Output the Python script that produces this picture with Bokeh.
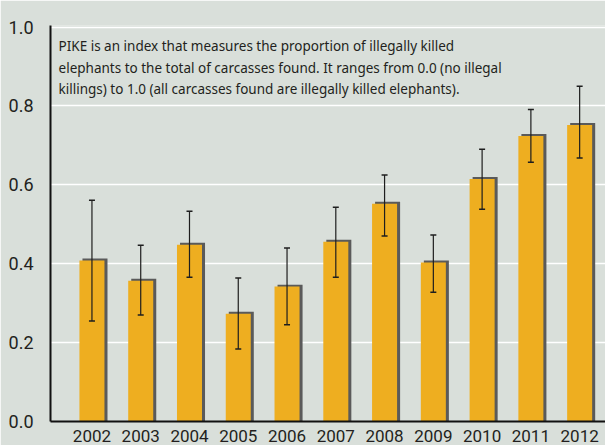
from bokeh.plotting import figure
from bokeh.models import Range1d, FixedTicker, Whisker, ColumnDataSource, Label, TeeHead
from bokeh.transform import dodge
from bokeh.embed import file_html
from bokeh.resources import INLINE

years = ["2002", "2003", "2004", "2005", "2006", "2007", "2008", "2009", "2010", "2011", "2012"]
pike = [0.408, 0.357, 0.448, 0.273, 0.342, 0.456, 0.552, 0.403, 0.615, 0.724, 0.752]
err_upper = [0.561, 0.447, 0.533, 0.364, 0.440, 0.543, 0.625, 0.473, 0.690, 0.791, 0.850]
err_lower = [0.255, 0.270, 0.366, 0.184, 0.245, 0.366, 0.470, 0.328, 0.538, 0.657, 0.668]
y_ticks = [0.0, 0.2, 0.4, 0.6, 0.8, 1.0]
note_lines = [
    "PIKE is an index that measures the proportion of illegally killed",
    "elephants to the total of carcasses found. It ranges from 0.0 (no illegal",
    "killings) to 1.0 (all carcasses found are illegally killed elephants).",
]

BG = "#d9dfda"
ORANGE = "#eeae20"
SHADOW = "#5a5a5a"
INK = "#231f20"

xs = list(range(len(years)))
shadow_top = [v + 0.005 for v in pike]
src = ColumnDataSource(dict(x=xs, top=pike, stop=shadow_top, up=err_upper, lo=err_lower))

p = figure(width=605, height=445, output_backend="svg", toolbar_location=None,
           x_range=Range1d(-0.85, 10.53), y_range=Range1d(0, 1.004),
           min_border_left=50, min_border_right=0, min_border_top=25, min_border_bottom=24)
p.background_fill_color = BG
p.border_fill_color = BG
p.outline_line_color = None

p.vbar(x=dodge("x", 0.062), top="stop", bottom=0, width=0.513, source=src,
       fill_color=SHADOW, line_color=None)
p.vbar(x="x", top="top", bottom=0, width=0.513, source=src,
       fill_color=ORANGE, line_color=None)

w = Whisker(base="x", upper="up", lower="lo", source=src, level="overlay",
            line_color="#1e1e1e", line_width=1.2,
            upper_head=TeeHead(size=6, line_color="#1e1e1e", line_width=1.5),
            lower_head=TeeHead(size=6, line_color="#1e1e1e", line_width=1.5))
p.add_layout(w)

# grid
p.xgrid.grid_line_color = None
p.ygrid.ticker = FixedTicker(ticks=y_ticks)
p.ygrid.grid_line_color = "white"
p.ygrid.grid_line_width = 1.3

# axes
p.yaxis.ticker = FixedTicker(ticks=y_ticks)
p.yaxis.major_label_overrides = {t: f"{t:.1f}" for t in y_ticks}
p.xaxis.ticker = FixedTicker(ticks=xs)
p.xaxis.major_label_overrides = {i: y for i, y in zip(xs, years)}
for ax in (p.xaxis[0], p.yaxis[0]):
    ax.axis_line_color = "#111111"
    ax.axis_line_width = 2
    ax.major_tick_line_color = None
    ax.minor_tick_line_color = None
    ax.major_tick_in = 0
    ax.major_tick_out = 0
    ax.minor_tick_in = 0
    ax.minor_tick_out = 0
    ax.major_label_text_color = INK
    ax.major_label_text_font = "Roboto"
p.yaxis.major_label_text_font_size = "18px"
p.yaxis.major_label_standoff = 17
p.xaxis.major_label_text_font_size = "17px"
p.xaxis.major_label_standoff = 8

# note text
x0 = p.x_range.start + 0.165
for i, line in enumerate(note_lines):
    p.add_layout(Label(x=x0, y=0.952 - i * 0.0545, text=line,
                       text_font="Noto Sans", text_font_size="13.5px",
                       text_color=INK, text_baseline="middle"))

open("out.html", "w").write(file_html(p, INLINE))
